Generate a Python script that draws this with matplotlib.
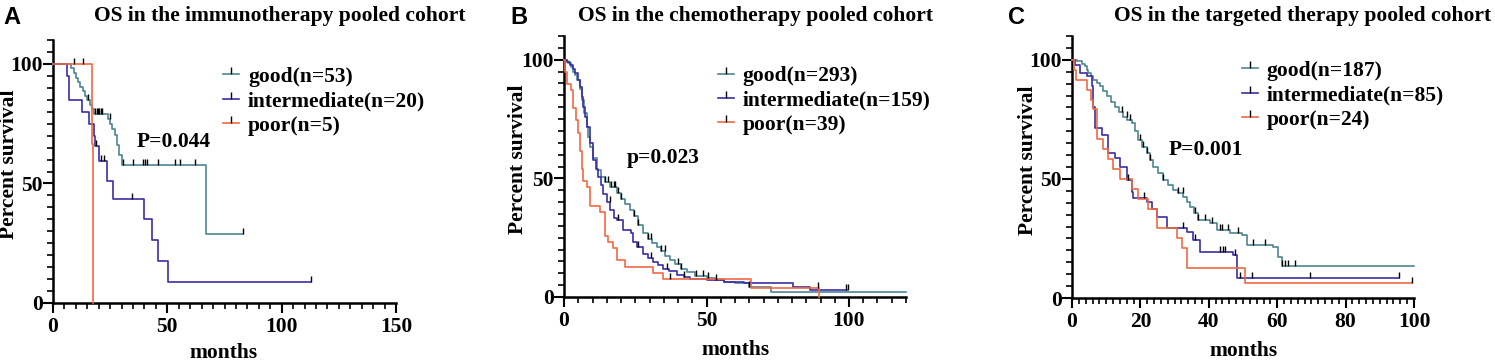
import numpy as np
import matplotlib
matplotlib.use('Agg')
import matplotlib.pyplot as plt
from matplotlib.lines import Line2D
from matplotlib.ticker import MultipleLocator

# ---- panel A: immunotherapy ----
a_good_t = [0, 8, 9, 10, 11, 12, 13, 14, 15, 16, 17, 18, 24, 25, 26, 27, 28, 29, 30, 67, 83]
a_good_s = [100, 98.1, 96.2, 94.3, 92.4, 90.5, 88.6, 86.7, 84.8, 82.9, 81, 79.2, 77, 74.8, 72.6, 70.4, 66, 61.7, 57.7, 28.9, 28.9]
a_good_cens = [15.5, 18.5, 19.2, 19.8, 20.3, 20.8, 21.3, 24.8, 30.7, 35.1, 39.5, 40.2, 41, 46, 53.3, 55.5, 62.1, 83]
a_int_t = [0, 6, 7.1, 12.8, 15.9, 18, 18.5, 20, 23.5, 26.4, 39.8, 43.2, 46, 50.4, 112.8]
a_int_s = [100, 95, 85, 80, 75, 70, 65.5, 59.5, 51, 43.5, 35, 26.3, 17.5, 8.8, 8.8]
a_int_cens = [18.8, 20.8, 22.3, 34.4, 112.8]
a_poor_t = [0, 17.2, 17.5]
a_poor_s = [100, 66.7, 0]
a_poor_cens = [9, 13]

# ---- panel B: chemotherapy ----
b_good_t = [0, 1, 1.5, 2.5, 3.3, 4, 4.7, 5.5, 6.2, 7, 8, 8.5, 9.1, 10, 11.5, 13, 14.4, 16, 18.5, 20, 21.5,
            23.2, 24.5, 26, 27.8, 29.5, 31, 32.5, 34, 35.5, 37.2, 39, 41, 43, 46, 50, 53, 56, 60, 65, 72.7, 120]
b_good_s = [100, 99.3, 98.6, 97, 95, 93.5, 91.5, 87.5, 83, 77.5, 71.8, 67.5, 63.4, 58.5, 53.5, 50.5, 48.6, 46.5, 43.7, 41.5, 39,
            36.6, 34, 30.5, 26.8, 24.5, 22.8, 21.1, 19.2, 17.3, 15.5, 13.8, 12, 10.6, 9, 8, 7.2, 6.5, 5.8, 4.2, 2.2, 2.2]
b_good_cens = [14.5, 15.5, 16.5, 17.5, 18, 19, 20, 24.5, 26, 29.6, 30.6, 34.1, 35.3, 40, 41, 46.3, 48.6, 50.4, 53.3, 65]
b_int_t = [0, 1, 2.1, 3, 3.9, 4.8, 5.6, 6.2, 6.8, 7.4, 8, 9, 10.3, 11.2, 12, 13, 13.8, 15, 16.1, 17.5, 18.5, 20.8,
           23.5, 24.3, 25.5, 27.8, 29.5, 31.3, 33, 34.8, 37, 39.5, 42, 44.2, 50, 56, 63, 80.4, 86.3, 99.2]
b_int_s = [100, 99, 97.9, 96, 94.4, 91.5, 88.7, 84.5, 80.2, 76, 71.8, 65, 57.7, 54, 50.7, 47, 43.6, 40, 36.6, 33.5, 32.4, 28.1,
           26.8, 23, 21.1, 18.3, 16.5, 14.8, 13.5, 12, 10.8, 9.2, 8.5, 7.7, 7.2, 6.5, 5.8, 4.4, 3, 3]
b_int_cens = [16, 19, 26, 30.4, 36.3, 42, 99, 99.5]
b_poor_t = [0, 0.5, 1.2, 2.5, 3.3, 4.3, 5, 5.6, 6.2, 6.8, 8, 9.1, 12.6, 14.4, 15.6, 17.3, 18.5, 21.4, 31.3, 34.6, 65.5, 89.3]
b_poor_s = [100, 94.9, 89.7, 87.2, 79.5, 74.4, 69.2, 61.5, 53.8, 48.7, 46.2, 38.5, 35.9, 25.6, 23.1, 20.5, 15.4, 12.8, 10.3, 7.7, 3.8, 0]
b_poor_cens = [37.2, 89]

# ---- panel C: targeted therapy ----
c_good_t = [0, 1.5, 2.3, 3, 3.8, 4.3, 4.8, 5.5, 6.2, 7.2, 8.2, 9.2, 10.1, 11.3, 12.6, 13.8, 15, 16.2, 17.4, 18.4, 19.4,
            20.6, 21.8, 22.8, 23.8, 25.2, 26.7, 28.1, 29.6, 31.1, 32.6, 33.5, 34.5, 35.7, 36.9, 40.4, 42.3, 46.2, 49.6,
            51.1, 58.9, 60.3, 61.3, 100]
c_good_s = [100, 99.5, 99.3, 98.2, 97.2, 95.8, 94.4, 93, 91.6, 90.2, 88.8, 86.7, 84.6, 82.5, 80.4, 78.3, 76.2, 74.8, 73.4, 70,
            66.4, 63.6, 60.8, 58, 55.2, 52.4, 49.6, 47.5, 45.4, 44, 42.6, 40.5, 38.4, 35.6, 32.8, 31.4, 28.6, 27.2, 26.5,
            22.3, 21.6, 17.4, 13.6, 13.6]
c_good_cens = [14.5, 16, 16.9, 19.9, 20.9, 21.8, 22.8, 26.7, 31.1, 32.5, 35.9, 36.9, 38.9, 40.8, 43.3, 43.8, 45.7,
               48.6, 53, 56.4, 61.3, 62.3, 63.2, 65.2]
c_int_t = [0, 0.9, 2.3, 4.3, 5.8, 6.2, 6.7, 8.7, 10.6, 12.6, 14, 16, 17.4, 17.9, 21.8, 23.3, 24.8, 27.7, 33.5, 35.5,
           37.4, 47.2, 48.2, 95.7]
c_int_s = [100, 97.9, 94.4, 93, 88.8, 80.4, 71.3, 68.5, 60.8, 58.7, 55.2, 49.6, 44.7, 41.9, 40.5, 37.5, 34.2, 29.3,
           27.9, 24.4, 19.5, 18.1, 8.3, 8.3]
c_int_cens = [16.5, 21, 32.5, 36, 43.3, 44.2, 44.7, 47.7, 49.1, 52.5, 69.6, 95.7]
c_poor_t = [0, 0.6, 1.2, 4.5, 5.5, 6.2, 7.2, 9.2, 10.5, 12.1, 14, 17.4, 19.4, 22.3, 24.8, 30.6, 32.1, 33.5, 50.6, 99.3]
c_poor_s = [100, 95.8, 91.7, 87.5, 83.3, 79.2, 66.7, 62.5, 58.3, 54.2, 50, 45.8, 41.7, 37.5, 29.2, 25, 20.8, 12.5, 6.2, 6.2]
c_poor_cens = [99.3]

titles = ['OS in the immunotherapy pooled cohort', 'OS in the chemotherapy pooled cohort',
          'OS in the targeted therapy pooled cohort']
letters = ['A', 'B', 'C']
labels_a = ['good(n=53)', 'intermediate(n=20)', 'poor(n=5)']
labels_b = ['good(n=293)', 'intermediate(n=159)', 'poor(n=39)']
labels_c = ['good(n=187)', 'intermediate(n=85)', 'poor(n=24)']
pvals = ['P=0.044', 'p=0.023', 'P=0.001']

GOOD = '#4d8691'
INTER = '#3b2ea6'
POOR = '#f16a44'
colors = [GOOD, INTER, POOR]

plt.rcParams['font.family'] = ['Liberation Serif', 'DejaVu Serif']
plt.rcParams['font.weight'] = 'bold'
FS = 15.5

W, H = 1495, 362
fig = plt.figure(figsize=(W / 100, H / 100), dpi=100)


def px_axes(l, t, r, b):
    return fig.add_axes([l / W, (H - b) / H, (r - l) / W, (b - t) / H])


def km(ax, t, s, cens, color):
    t = np.array(t)
    s = np.array(s)
    ax.step(t, s, where='post', color=color, lw=1.2, clip_on=False, zorder=3)
    if cens:
        c = np.array(cens)
        idx = np.searchsorted(t, c, side='right') - 1
        ax.plot(c, s[idx], ls='none', marker=2, ms=4, mew=1.0, color='black', zorder=4, clip_on=False)


def style(ax, xmax, xmajor, xminor):
    ax.set_xlim(0, xmax)
    ax.set_ylim(0, 110)
    for sp in ['top', 'right']:
        ax.spines[sp].set_visible(False)
    for sp in ['left', 'bottom']:
        ax.spines[sp].set_linewidth(1.8)
    ax.xaxis.set_major_locator(MultipleLocator(xmajor))
    ax.xaxis.set_minor_locator(MultipleLocator(xminor))
    ax.yaxis.set_major_locator(MultipleLocator(50))
    ax.yaxis.set_minor_locator(MultipleLocator(5))
    ax.tick_params(which='major', length=7, width=1.5, labelsize=FS, pad=3)
    ax.tick_params(which='minor', length=4.5, width=1.2)
    ax.tick_params(axis='y', pad=0.5)
    for lab in ax.get_xticklabels() + ax.get_yticklabels():
        lab.set_fontweight('bold')


panels = [
    dict(box=(53, 40, 396, 303), xmax=150, xmajor=50, xminor=5,
         curves=[(a_good_t, a_good_s, a_good_cens), (a_int_t, a_int_s, a_int_cens), (a_poor_t, a_poor_s, a_poor_cens)],
         labels=labels_a, leg=(0.496, 0.898), ptxt=(36.7, 65.4),
         title_x=280, letter_x=3, ylab_x=9, ylab_y=164, xlab_x=224, xlab_y=358),
    dict(box=(564, 36, 906, 297), xmax=120, xmajor=50, xminor=5,
         curves=[(b_good_t, b_good_s, b_good_cens), (b_int_t, b_int_s, b_int_cens), (b_poor_t, b_poor_s, b_poor_cens)],
         labels=labels_b, leg=(0.450, 0.885), ptxt=(22, 56.4),
         title_x=756, letter_x=510, ylab_x=518, ylab_y=159, xlab_x=736, xlab_y=355),
    dict(box=(1072, 36, 1414, 298), xmax=100, xmajor=20, xminor=2,
         curves=[(c_good_t, c_good_s, c_good_cens), (c_int_t, c_int_s, c_int_cens), (c_poor_t, c_poor_s, c_poor_cens)],
         labels=labels_c, leg=(0.497, 0.905), ptxt=(28.4, 60),
         title_x=1303, letter_x=1008, ylab_x=1028, ylab_y=160, xlab_x=1244, xlab_y=356),
]

for i, p in enumerate(panels):
    ax = px_axes(*p['box'])
    for (t, s, cens), col in zip(p['curves'], colors):
        km(ax, t, s, cens, col)
    style(ax, p['xmax'], p['xmajor'], p['xminor'])
    ax.text(p['ptxt'][0], p['ptxt'][1], pvals[i], fontsize=FS, fontweight='bold', va='baseline')

    handles = [Line2D([0], [0], color=c, lw=1.2, marker=2, ms=5, mew=1.0, mec='black') for c in colors]
    ax.legend(handles, p['labels'], loc='upper left', bbox_to_anchor=p['leg'], frameon=False,
              prop={'weight': 'bold', 'size': FS}, borderpad=0, borderaxespad=0,
              handlelength=0.75, handletextpad=0.4, labelspacing=0.2, numpoints=1)

    fig.text(p['title_x'] / W, 1 - 20.7 / H, titles[i], ha='center', va='baseline', fontsize=FS, fontweight='bold')
    fig.text(p['letter_x'] / W, 1 - 24 / H, letters[i], ha='left', va='baseline', fontsize=17,
             fontweight='bold', family=['Liberation Sans', 'DejaVu Sans'])
    fig.text(p['ylab_x'] / W, 1 - p['ylab_y'] / H, 'Percent survival', rotation=90, ha='center', va='center',
             fontsize=FS, fontweight='bold')
    fig.text(p['xlab_x'] / W, 1 - p['xlab_y'] / H, 'months', ha='center', va='baseline', fontsize=FS,
             fontweight='bold')

fig.savefig('out.png', dpi=100)
